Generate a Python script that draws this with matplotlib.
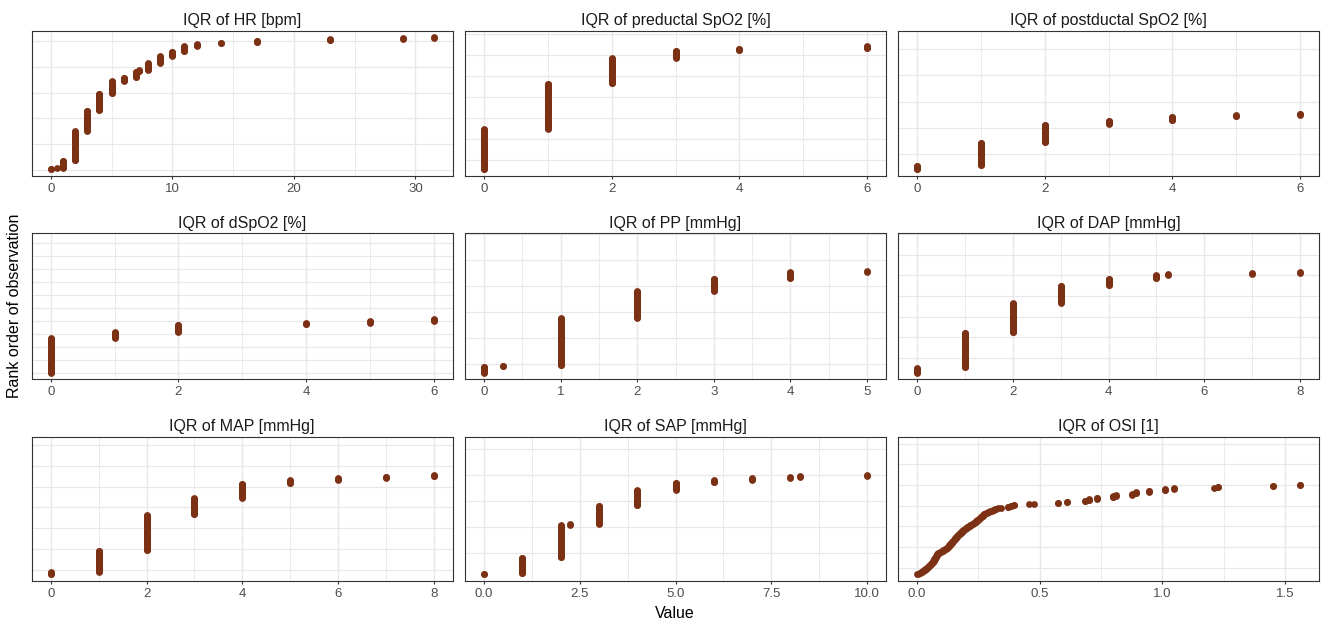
import matplotlib
matplotlib.use('Agg')
import matplotlib.pyplot as plt
import numpy as np
from matplotlib.ticker import MultipleLocator, FormatStrFormatter

plt.rcParams['font.family'] = ['Liberation Sans', 'DejaVu Sans']

# facet titles
titles = ['IQR of HR [bpm]', 'IQR of preductal SpO2 [%]', 'IQR of postductal SpO2 [%]',
          'IQR of dSpO2 [%]', 'IQR of PP [mmHg]', 'IQR of DAP [mmHg]',
          'IQR of MAP [mmHg]', 'IQR of SAP [mmHg]', 'IQR of OSI [1]']

hr_values = [0, 0.5, 1, 2, 3, 4, 5, 6, 7, 7.25, 8, 9, 10, 11, 12, 14, 17, 23, 29, 31.5]
hr_counts = [2, 1, 15, 57, 40, 33, 24, 7, 11, 3, 14, 13, 9, 11, 4, 2, 4, 3, 2, 2]

pre_values = [0, 1, 2, 3, 4, 6]
pre_counts = [79, 88, 49, 15, 4, 5]

post_values = [0, 1, 2, 3, 4, 5, 6]
post_counts = [8, 45, 35, 7, 8, 3, 3]

dspo2_values = [0, 1, 2, 4, 5, 6]
dspo2_counts = [67, 12, 14, 3, 4, 4]

pp_values = [0, 0.25, 1, 2, 3, 4, 5]
pp_counts = [12, 2, 92, 52, 24, 13, 2]

dap_values = [0, 1, 2, 3, 4, 5, 5.25, 7, 8]
dap_counts = [10, 68, 57, 34, 13, 7, 2, 2, 2]

map_values = [0, 1, 2, 3, 4, 5, 6, 7, 8]
map_counts = [5, 42, 70, 33, 28, 7, 4, 3, 3]

sap_values = [0, 1, 2, 2.25, 3, 4, 5, 6, 7, 8, 8.25, 10]
sap_counts = [2, 32, 63, 2, 36, 30, 15, 5, 4, 2, 2, 2]

osi_values = [0.0, 0.005, 0.01, 0.013, 0.016, 0.019, 0.022, 0.025, 0.028, 0.031, 0.034, 0.037,
              0.039, 0.041, 0.043, 0.045, 0.047, 0.049, 0.051, 0.053, 0.055, 0.057, 0.059, 0.062, 0.064,
              0.065, 0.066, 0.067, 0.068, 0.069, 0.070, 0.071, 0.072, 0.073, 0.075, 0.076, 0.077, 0.079,
              0.080, 0.082, 0.084,
              0.087, 0.091, 0.094, 0.098, 0.101, 0.104, 0.107, 0.110, 0.114, 0.118,
              0.120, 0.122, 0.124, 0.126, 0.128, 0.130, 0.131, 0.133, 0.135, 0.137, 0.139, 0.141,
              0.143, 0.144, 0.146, 0.148, 0.150, 0.151, 0.153, 0.154, 0.156, 0.157, 0.159,
              0.161, 0.164, 0.166, 0.168, 0.171, 0.173, 0.175, 0.178, 0.180, 0.182, 0.185, 0.187,
              0.189, 0.192, 0.194, 0.197, 0.199,
              0.202, 0.205, 0.208, 0.211, 0.214, 0.217, 0.221, 0.224, 0.227, 0.230, 0.233, 0.237, 0.240,
              0.242, 0.244, 0.246, 0.249, 0.251, 0.253, 0.256, 0.258, 0.260, 0.262, 0.265, 0.267,
              0.269, 0.272, 0.274,
              0.279, 0.284, 0.289, 0.294, 0.299, 0.304, 0.308, 0.313, 0.318, 0.323, 0.329,
              0.341, 0.369, 0.382, 0.396, 0.457, 0.477, 0.575, 0.610, 0.683, 0.700, 0.732,
              0.800, 0.813, 0.877, 0.894, 0.944, 1.012, 1.046, 1.209, 1.229, 1.453, 1.561]
osi_counts = [1] * 130 + [1, 2, 2, 2, 1, 1, 2, 2, 2, 3, 3, 3, 2, 2, 3, 3, 3, 2, 1, 2, 2, 2]

values = [hr_values, pre_values, post_values, dspo2_values, pp_values,
          dap_values, map_values, sap_values, osi_values]
counts = [hr_counts, pre_counts, post_counts, dspo2_counts, pp_counts,
          dap_counts, map_counts, sap_counts, osi_counts]

n_obs = 257  # rank scale length

# styling: x tick step, tick format, y grid start/step (rank units)
x_steps = [10, 2, 2, 2, 1, 2, 2, 2.5, 0.5]
x_fmts = ['%d', '%d', '%d', '%d', '%d', '%d', '%d', '%.1f', '%.1f']
y_grid = [(0, 50), (19.4, 40.8), (31.2, 50.6), (0, 25.1), (17.9, 50),
          (28.9, 40), (9.9, 40.6), (42.6, 51), (13.8, 40.4)]

W, H = 1341, 623
col_lr = [(31.7, 452.7), (465, 886), (898, 1319)]
row_tb = [(30.7, 176), (233.3, 379.3), (436.7, 581)]

fig = plt.figure(figsize=(W / 100, H / 100), dpi=100)
point_col = '#7c3115'
grid_col = '#e8e8e8'

for i in range(9):
    r, c = divmod(i, 3)
    l, rr = col_lr[c]
    t, b = row_tb[r]
    ax = fig.add_axes([l / W, 1 - b / H, (rr - l) / W, (b - t) / H])

    x = np.repeat(values[i], counts[i])
    y = np.arange(1, len(x) + 1)
    ax.scatter(x, y, s=24, color=point_col, linewidths=0, zorder=3)

    xmin, xmax = min(values[i]), max(values[i])
    pad = 0.05 * (xmax - xmin)
    ax.set_xlim(xmin - pad, xmax + pad)
    ypad = 0.05 * (n_obs - 1)
    ax.set_ylim(1 - ypad, n_obs + ypad)

    ax.xaxis.set_major_locator(MultipleLocator(x_steps[i]))
    ax.xaxis.set_minor_locator(MultipleLocator(x_steps[i] / 2))
    ax.xaxis.set_major_formatter(FormatStrFormatter(x_fmts[i]))

    g0, gs = y_grid[i]
    gy = np.arange(g0, n_obs + ypad, gs)
    ax.set_yticks(gy)
    ax.set_yticklabels([])
    ax.tick_params(axis='y', length=0)

    ax.grid(which='major', axis='x', color=grid_col, linewidth=1.0)
    ax.grid(which='minor', axis='x', color=grid_col, linewidth=0.6)
    ax.grid(which='major', axis='y', color=grid_col, linewidth=0.9)
    ax.set_axisbelow(True)

    ax.tick_params(axis='x', which='major', direction='out', length=2.5, width=0.8,
                   color='#333333', labelsize=9.5, labelcolor='#4d4d4d', pad=2.5)
    ax.tick_params(axis='x', which='minor', length=0)
    for sp in ax.spines.values():
        sp.set_color('#333333')
        sp.set_linewidth(0.8)

    ax.set_title(titles[i], fontsize=11.5, color='#1a1a1a', pad=4)

fig.text(15 / W, 1 - 306 / H, 'Rank order of observation', rotation=90,
         ha='center', va='center', fontsize=11.5, color='black')
fig.text(675 / W, 1 - 613 / H, 'Value', ha='center', va='center', fontsize=11.5, color='black')

fig.savefig('out.png', dpi=100, facecolor='white')
